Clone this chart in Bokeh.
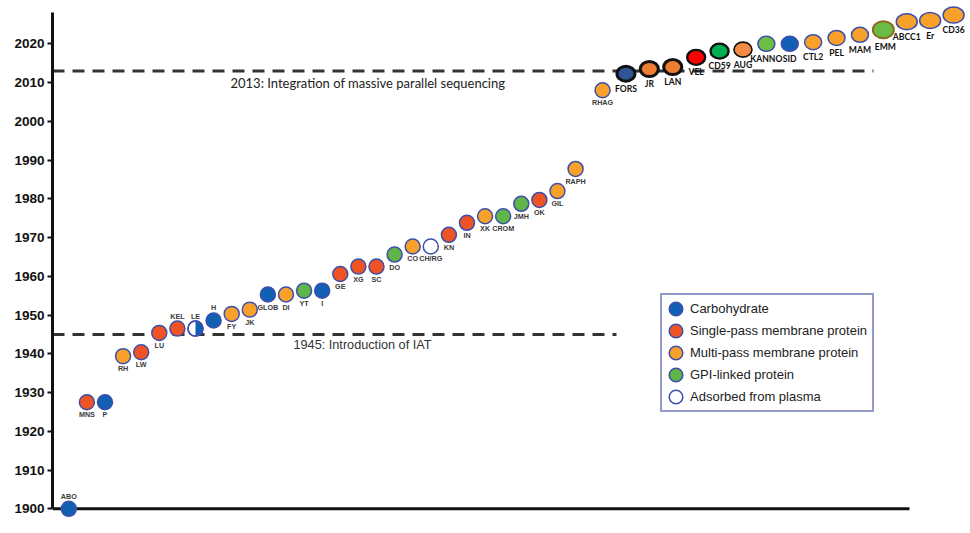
import numpy as np
from bokeh.plotting import figure
from bokeh.models import ColumnDataSource, Range1d, FixedTicker, Label, Legend, LegendItem
from bokeh.core.properties import value
from bokeh.embed import file_html
from bokeh.resources import INLINE

# ---------------- data ----------------
systems = ["ABO", "MNS", "P", "RH", "LW", "LU", "KEL", "LE", "H", "FY", "JK", "GLOB", "DI",
           "YT", "I", "GE", "XG", "SC", "DO", "CO", "CH/RG", "KN", "IN", "XK", "CROM", "JMH",
           "OK", "GIL", "RAPH", "RHAG", "FORS", "JR", "LAN", "VEL", "CD59", "AUG", "KANNO",
           "SID", "CTL2", "PEL", "MAM", "EMM", "ABCC1", "Er", "CD36"]
years = [1900, 1927.5, 1927.5, 1939.4, 1940.4, 1945.4, 1946.5, 1946.5, 1948.6, 1950.3, 1951.4,
         1955.3, 1955.3, 1956.3, 1956.3, 1960.6, 1962.5, 1962.5, 1965.6, 1967.7, 1967.7, 1970.7,
         1973.8, 1975.5, 1975.5, 1978.7, 1979.7, 1982.0, 1987.7, 2008.0, 2012.3, 2013.5, 2014.0,
         2016.5, 2018.1, 2018.5, 2020.0, 2020.0, 2020.4, 2021.5, 2022.3, 2023.6, 2025.7, 2026.0,
         2027.4]
# C = carbohydrate, S = single-pass, M = multi-pass, G = GPI-linked, A = adsorbed, CA = carbohydrate/adsorbed
antigen_type = ["C", "S", "C", "M", "S", "S", "S", "CA", "C", "M", "M", "C", "M",
                "G", "C", "S", "S", "S", "G", "M", "A", "S", "S", "M", "G", "G",
                "S", "M", "M", "M", "C", "M", "M", "S", "G", "M", "G",
                "C", "M", "M", "M", "G", "M", "M", "M"]
legend_types = ["Carbohydrate", "Single-pass membrane protein", "Multi-pass membrane protein",
                "GPI-linked protein", "Adsorbed from plasma"]
legend_codes = ["C", "S", "M", "G", "A"]
year_ticks = list(range(1900, 2021, 10))
milestone_years = [1945, 2013]
milestone_labels = ["1945: Introduction of IAT", "2013: Integration of massive parallel sequencing"]

# ---------------- styles ----------------
base_fill = {"C": "#1160B4", "S": "#EF5323", "M": "#F7A12A", "G": "#5FB547", "A": "#FFFFFF", "CA": "#FFFFFF"}
office_fill = {"C": "#2F5597", "S": "#FF0000", "M": "#ED7D31", "G": "#00B050"}
outline_blue = "#3D4FAA"
black_group = ["FORS", "JR", "LAN", "VEL", "CD59", "AUG"]
wide_group = ["EMM", "ABCC1", "Er", "CD36"]
label_above = ["ABO", "KEL", "LE", "H"]

W, H = 970, 533
LEFT = 52
X0, X1 = -0.90, 49.82
Y0, Y1 = 1893.63, 2031.17
px_per_x = (W - LEFT) / (X1 - X0)
px_per_y = H / (Y1 - Y0)

n = len(systems)
idx = np.arange(n)
split = systems.index("RHAG")
xpos = np.where(idx < split, idx, (split - 1) + 1.49 + (idx - split) * 1.293)

fills, lines, lws, ws, hs, yoff, xoff = [], [], [], [], [], [], []
for i, (s, t) in enumerate(zip(systems, antigen_type)):
    upper = i > split
    if s in black_group:
        fills.append(office_fill[t] if s != "AUG" else "#F58A45")
        lines.append("#111111")
        lws.append(1.6 if s == "AUG" else (2.4 if s in ("VEL", "CD59") else 3.0))
        ws.append(18); hs.append(15)
    elif s == "EMM":
        fills.append("#6CBB45"); lines.append("#8C6A1E"); lws.append(2.0)
        ws.append(21); hs.append(17)
    else:
        fills.append(base_fill[t] if not (upper and t == "G") else "#6DBE45")
        lines.append(outline_blue); lws.append(1.5)
        if s in wide_group:
            ws.append(21); hs.append(16)
        elif upper:
            ws.append(17); hs.append(15)
        else:
            ws.append(15); hs.append(15)
    if s in label_above:
        yoff.append(-12.5)
    elif s == "EMM":
        yoff.append(17)
    elif upper:
        yoff.append(15)
    else:
        yoff.append(12.5)
    xoff.append(2 if s == "EMM" else 0)

src = ColumnDataSource(dict(x=xpos, y=years, name=systems, fill=fills, line=lines, lw=lws,
                            w=ws, h=hs, yoff=yoff, xoff=xoff))

# half-filled markers (right half carbohydrate blue) as polygons around the point
ca_rows = [i for i, t in enumerate(antigen_type) if t == "CA"]
theta = np.linspace(-np.pi / 2, np.pi / 2, 25)
r_px = 7.5
half_xs = [list(xpos[i] + r_px * np.cos(theta) / px_per_x) for i in ca_rows]
half_ys = [list(years[i] + r_px * np.sin(theta) / px_per_y) for i in ca_rows]
src_half = ColumnDataSource(dict(xs=half_xs, ys=half_ys))
src_ca = ColumnDataSource(dict(x=xpos[ca_rows], y=[years[i] for i in ca_rows]))

up_rows = [i for i in range(n) if i > split]
low_rows = [i for i in range(n) if i <= split]

def sub(rows):
    return ColumnDataSource({k: [src.data[k][i] for i in rows] for k in src.data})

src_low = sub(low_rows)
src_up = sub(up_rows)

# ---------------- figure ----------------
p = figure(width=W, height=H, output_backend="svg", toolbar_location=None,
           x_range=Range1d(X0, X1), y_range=Range1d(Y0, Y1),
           x_axis_location=None, min_border_left=LEFT, min_border_right=0,
           min_border_top=0, min_border_bottom=0)
p.outline_line_color = None
p.grid.visible = False
p.background_fill_color = "white"

ax = p.yaxis[0]
ax.ticker = FixedTicker(ticks=year_ticks)
ax.bounds = (1900, 2028.1)
ax.axis_line_width = 3
ax.axis_line_color = "#111111"
ax.major_tick_line_width = 2
ax.major_tick_line_color = "#111111"
ax.major_tick_out = 5
ax.major_tick_in = 0
ax.minor_tick_line_color = None
ax.major_label_standoff = 3
ax.major_label_text_font = "Liberation Sans"
ax.major_label_text_font_style = "bold"
ax.major_label_text_font_size = "13.5px"
ax.major_label_text_color = "#111111"

# baseline at 1900 and milestone dashed lines
p.segment(x0=[X0], y0=[year_ticks[0]], x1=[46.45], y1=[year_ticks[0]],
          line_color="#111111", line_width=3)
p.segment(x0=[X0, X0], y0=milestone_years, x1=[30.26, 44.46], y1=milestone_years,
          line_color="#333333", line_width=3, line_dash="12 8")

p.add_layout(Label(x=241, y=milestone_years[0], x_units="screen", y_offset=-10.5,
                   text=milestone_labels[0], text_font="Liberation Sans", text_font_size="12.7px",
                   text_color="#333333", text_baseline="middle"))
p.add_layout(Label(x=178, y=milestone_years[1], x_units="screen", y_offset=-12,
                   text=milestone_labels[1], text_font="Lato", text_font_size="13px",
                   text_color="#222222", text_baseline="middle"))

# points
p.ellipse(x="x", y="y", width="w", height="h", width_units="screen", height_units="screen",
          source=src, fill_color="fill", line_color="line", line_width="lw")
p.patches(xs="xs", ys="ys", source=src_half, fill_color=base_fill["C"], line_color=None)
p.ellipse(x="x", y="y", width=15, height=15, width_units="screen", height_units="screen",
          source=src_ca, fill_color=None, line_color=outline_blue, line_width=1.5)

# labels
p.text(x="x", y="y", text="name", source=src_low, x_offset="xoff", y_offset="yoff",
       text_align="center", text_baseline="middle", text_font=value("Liberation Sans"),
       text_font_style="bold", text_font_size="7.2px", text_color="#3a3a3a")
p.text(x="x", y="y", text="name", source=src_up, x_offset="xoff", y_offset="yoff",
       text_align="center", text_baseline="middle", text_font=value("Lato"),
       text_font_style="bold", text_font_size="8.6px", text_color="#111111")

# legend (dummy renderers with no visible point)
items = []
for code, lab in zip(legend_codes, legend_types):
    r = p.ellipse(x=[np.nan], y=[np.nan], width=15, height=15, width_units="screen",
                  height_units="screen", fill_color=base_fill[code], line_color=outline_blue,
                  line_width=1.5)
    items.append(LegendItem(label=lab, renderers=[r]))
legend = Legend(items=items, location=(608, 121), glyph_width=17, glyph_height=17,
                label_height=17, spacing=5, padding=5, label_standoff=6, margin=0,
                label_text_font="Liberation Sans", label_text_font_size="13px",
                label_text_color="#222222", border_line_color="#28358F", border_line_width=2.5,
                background_fill_color="white", background_fill_alpha=1.0)
p.add_layout(legend, "center")

open("out.html", "w").write(file_html(p, INLINE))
